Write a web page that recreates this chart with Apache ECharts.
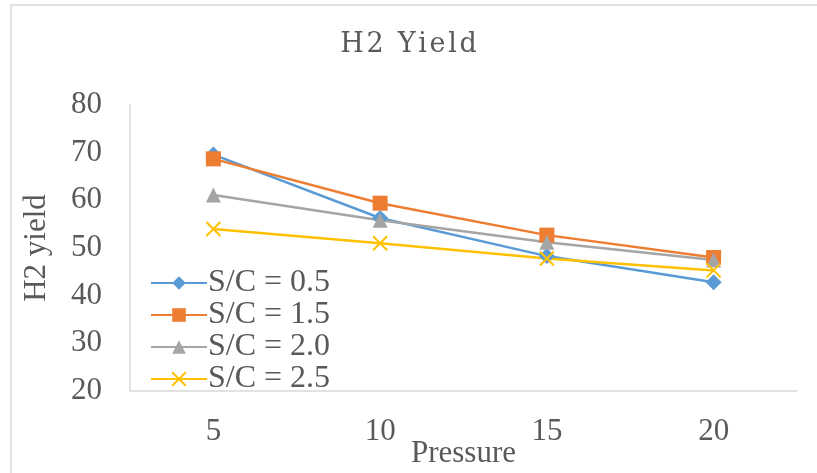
<!DOCTYPE html>
<html>
<head>
<meta charset="utf-8">
<script src="https://cdn.jsdelivr.net/npm/echarts@6/dist/echarts.min.js"></script>
<style>html,body{margin:0;padding:0;background:#fff;}#c{width:817px;height:473px;}</style>
</head>
<body>
<div id="c"></div>
<script>
var categories = ['5', '10', '15', '20'];
var sc05 = [69.6, 56.3, 48.3, 42.8];
var sc15 = [68.7, 59.4, 52.7, 48.0];
var sc20 = [61.1, 55.8, 51.2, 47.5];
var sc25 = [54.0, 51.0, 47.8, 45.3];
var seriesNames = ['S/C = 0.5', 'S/C = 1.5', 'S/C = 2.0', 'S/C = 2.5'];
var yTicks = {min: 20, max: 80, interval: 10};

var font = 'Liberation Serif';
var textColor = '#595959';
var colors = ['#5B9BD5', '#ED7D31', '#A5A5A5', '#FFC000'];
var crossPath = 'path://M0,0 L10,10 M10,0 L0,10';

function mk(name, data, color, symbol, size, extra) {
  var s = {
    name: name, type: 'line', data: data, symbol: symbol, symbolSize: size,
    lineStyle: {color: color, width: 2.5},
    itemStyle: {color: color},
    emphasis: {disabled: true}
  };
  if (extra) { s.itemStyle = {color: 'none', borderColor: color, borderWidth: 2}; }
  return s;
}

var chart = echarts.init(document.getElementById('c'));
chart.setOption({
  animation: false,
  backgroundColor: '#fff',
  graphic: [{type: 'rect', shape: {x: 11, y: 5, width: 900, height: 600}, style: {fill: 'none', stroke: '#D9D9D9', lineWidth: 1.5}, silent: true}],
  title: {
    text: 'H\u200A2 \u2009Y\u200Ai\u200Ae\u200Al\u200Ad',
    left: 'center', top: 26,
    textStyle: {fontFamily: 'DejaVu Serif', fontSize: 27, fontWeight: 'normal', color: textColor}
  },
  grid: {left: 130, right: 20, top: 105, bottom: 82, outerBoundsMode: 'none', containLabel: false},
  legend: {
    orient: 'vertical', left: 145, top: 262,
    itemWidth: 56, itemHeight: 17, itemGap: 0,
    textStyle: {fontFamily: font, fontSize: 32, color: textColor, lineHeight: 31, padding: [0, 0, 0, -4]},
    data: seriesNames
  },
  xAxis: {
    type: 'category', data: categories, boundaryGap: true,
    name: 'Pressure', nameLocation: 'middle', nameGap: 47, nameMoveOverlap: false,
    nameTextStyle: {fontFamily: font, fontSize: 31, color: textColor},
    axisLine: {lineStyle: {color: '#D9D9D9', width: 1.5}},
    axisTick: {show: false},
    axisLabel: {fontFamily: font, fontSize: 31, color: textColor, margin: 25}
  },
  yAxis: {
    type: 'value', min: yTicks.min, max: yTicks.max, interval: yTicks.interval,
    name: 'H2 yield', nameLocation: 'middle', nameRotate: 90, nameGap: 78, nameMoveOverlap: false,
    nameTextStyle: {fontFamily: font, fontSize: 31, color: textColor},
    axisLine: {show: true, lineStyle: {color: '#D9D9D9', width: 1.5}},
    axisTick: {show: false},
    splitLine: {show: false},
    axisLabel: {fontFamily: font, fontSize: 31, color: textColor, margin: 28}
  },
  series: [
    mk(seriesNames[0], sc05, colors[0], 'diamond', 16),
    mk(seriesNames[1], sc15, colors[1], 'rect', 15),
    mk(seriesNames[2], sc20, colors[2], 'triangle', 15),
    mk(seriesNames[3], sc25, colors[3], crossPath, 14, true)
  ]
});
</script>
</body>
</html>
